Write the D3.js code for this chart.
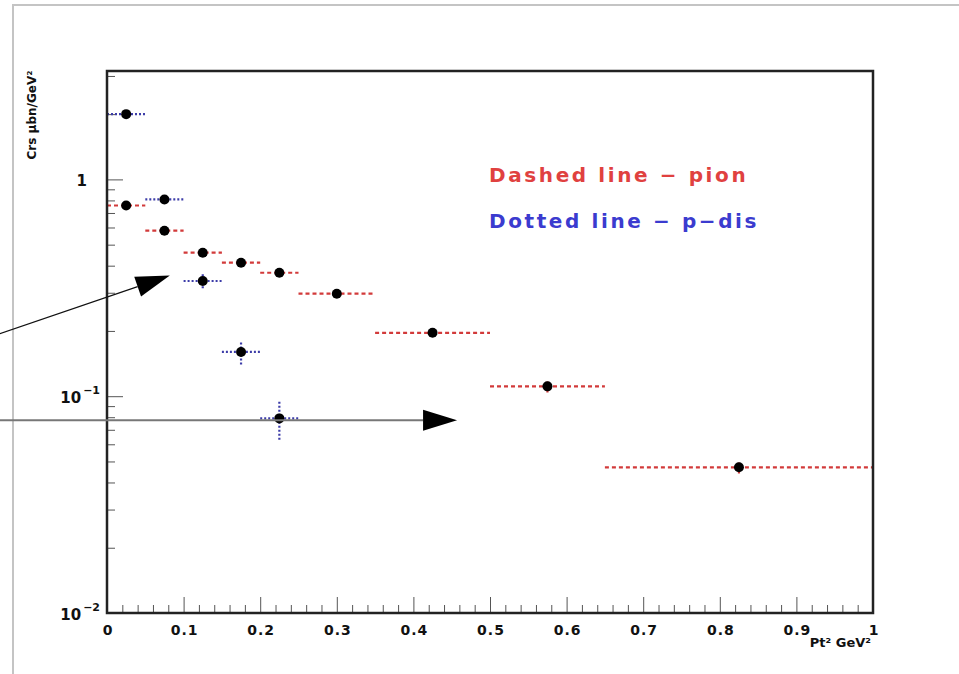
<!DOCTYPE html>
<html>
<head>
<meta charset="utf-8">
<script src="https://cdn.jsdelivr.net/npm/d3@7"></script>
<style>
  html, body { margin: 0; padding: 0; background: #fff; }
  svg { display: block; }
</style>
</head>
<body>
<div id="chart"></div>
<script>
// pion (red dashed)
const pionX   = [0.025, 0.075, 0.125, 0.175, 0.225, 0.3, 0.425, 0.575, 0.825];
const pionXLo = [0, 0.05, 0.1, 0.15, 0.2, 0.25, 0.35, 0.5, 0.65];
const pionXHi = [0.05, 0.1, 0.15, 0.2, 0.25, 0.35, 0.5, 0.65, 1.0];
const pionY   = [0.758, 0.58, 0.459, 0.413, 0.371, 0.297, 0.196, 0.111, 0.047];
const pionErr = [0.02, 0.015, 0.015, 0.015, 0.015, 0.01, 0.008, 0.007, 0.003];

// p-dis (blue dotted)
const pdisX   = [0.025, 0.075, 0.125, 0.175, 0.225];
const pdisXLo = [0, 0.05, 0.1, 0.15, 0.2];
const pdisXHi = [0.05, 0.1, 0.15, 0.2, 0.25];
const pdisY   = [2.0, 0.808, 0.34, 0.16, 0.079];
const pdisErr = [0.05, 0.03, 0.025, 0.02, 0.016];

const xTicks = [0, 0.1, 0.2, 0.3, 0.4, 0.5, 0.6, 0.7, 0.8, 0.9, 1];
const yTicks = [1, 0.1, 0.01];

const W = 959, H = 674;
const M = { left: 107, right: 873, top: 71, bottom: 613 };
const FONT = "'DejaVu Sans', Verdana, sans-serif";
const COL = {
  frame: '#222',
  red: '#d23a3a',
  blue: '#3c3ca8',
  legRed: '#e0413f',
  legBlue: '#3b3bcf',
  border: '#c4c4c4',
};

const svg = d3.select('#chart').append('svg')
  .attr('width', W).attr('height', H);

// outer page border (grey)
svg.append('path')
  .attr('d', `M13,${H} L13,5 L${W},5`)
  .attr('fill', 'none').attr('stroke', COL.border).attr('stroke-width', 2);

const x = d3.scaleLinear().domain([0, 1]).range([M.left, M.right]);
const y = d3.scaleLog().domain([0.01, Math.pow(10, 0.5)]).range([M.bottom, M.top]);

// x axis ticks (major + minor), pointing up
const xAxis = d3.axisBottom(x).tickValues(d3.range(0, 1.0001, 0.02))
  .tickSize(-8).tickFormat('');
const gx = svg.append('g').attr('transform', `translate(0,${M.bottom})`).call(xAxis);
gx.selectAll('.tick line')
  .attr('y2', (d) => Math.abs(d * 10 - Math.round(d * 10)) < 1e-6 ? -16 : -8)
  .attr('stroke', '#555');
gx.select('.domain').remove();

svg.append('g').selectAll('text').data(xTicks).enter().append('text')
  .attr('x', d => x(d) + 1).attr('y', M.bottom + 22)
  .attr('text-anchor', 'middle')
  .attr('font-family', FONT).attr('font-weight', 'bold').attr('font-size', 14)
  .attr('letter-spacing', 1)
  .attr('fill', '#111')
  .text(d => d === 0 || d === 1 ? String(d) : d.toFixed(1));

// y axis ticks (log), pointing right
const yMinor = [];
for (let e = -2; e <= 0; e++) {
  for (let k = 1; k <= 9; k++) {
    const v = k * Math.pow(10, e);
    if (v >= 0.01 && v <= Math.pow(10, 0.5)) yMinor.push(v);
  }
}
const yAxis = d3.axisLeft(y).tickValues(yMinor).tickSize(-8).tickFormat('');
const gy = svg.append('g').attr('transform', `translate(${M.left},0)`).call(yAxis);
gy.selectAll('.tick line')
  .attr('x2', d => yTicks.some(t => Math.abs(t - d) < 1e-9) ? 16 : 8)
  .attr('stroke', '#555');
gy.select('.domain').remove();

const yLab = svg.append('g').selectAll('text').data(yTicks).enter().append('text')
  .attr('x', d => d === 1 ? 87 : 100).attr('y', d => y(d) + 7)
  .attr('text-anchor', 'end')
  .attr('font-family', FONT).attr('font-weight', 'bold').attr('font-size', 15)
  .attr('fill', '#111');
yLab.each(function (d) {
  const t = d3.select(this);
  if (d === 1) { t.text('1'); return; }
  const e = Math.round(Math.log10(d));
  t.append('tspan').text('10');
  t.append('tspan').attr('dy', -9).attr('dx', 2).attr('font-size', 11).text('\u2212' + Math.abs(e));
});

// axis titles
svg.append('text')
  .attr('transform', 'translate(36,115) rotate(-90)')
  .attr('text-anchor', 'middle')
  .attr('font-family', FONT).attr('font-weight', 'bold').attr('font-size', 12)
  .attr('fill', '#111')
  .text('Crs \u03bcbn/GeV\u00b2');

svg.append('text')
  .attr('x', 871).attr('y', 647)
  .attr('text-anchor', 'end')
  .attr('font-family', FONT).attr('font-weight', 'bold').attr('font-size', 13)
  .attr('fill', '#111')
  .text('Pt\u00b2 GeV\u00b2');

// error bars
function drawSeries(xs, lo, hi, ys, err, color, dash) {
  const g = svg.append('g');
  const idx = d3.range(xs.length);
  g.selectAll('.hbar').data(idx).enter().append('line')
    .attr('x1', i => x(lo[i])).attr('x2', i => x(hi[i]))
    .attr('y1', i => y(ys[i])).attr('y2', i => y(ys[i]))
    .attr('stroke', color).attr('stroke-width', 2.2)
    .attr('stroke-dasharray', dash);
  g.selectAll('.vbar').data(idx).enter().append('line')
    .attr('x1', i => x(xs[i])).attr('x2', i => x(xs[i]))
    .attr('y1', i => y(ys[i] - err[i])).attr('y2', i => y(ys[i] + err[i]))
    .attr('stroke', color).attr('stroke-width', 2.2)
    .attr('stroke-dasharray', dash);
  g.selectAll('circle').data(idx).enter().append('circle')
    .attr('cx', i => x(xs[i])).attr('cy', i => y(ys[i]))
    .attr('r', 5).attr('fill', '#000');
}
drawSeries(pionX, pionXLo, pionXHi, pionY, pionErr, COL.red, '4,3');
drawSeries(pdisX, pdisXLo, pdisXHi, pdisY, pdisErr, COL.blue, '2,2');

// plot frame
svg.append('rect')
  .attr('x', M.left).attr('y', M.top)
  .attr('width', M.right - M.left).attr('height', M.bottom - M.top)
  .attr('fill', 'none').attr('stroke', COL.frame).attr('stroke-width', 2.5);

// legend
const legend = [
  { text: 'Dashed line \u2212 pion', color: COL.legRed },
  { text: 'Dotted line \u2212 p\u2212dis', color: COL.legBlue },
];
svg.append('g').selectAll('text').data(legend).enter().append('text')
  .attr('x', 489).attr('y', (d, i) => 182 + i * 46)
  .attr('font-family', FONT).attr('font-weight', 'bold')
  .attr('font-size', 20).attr('letter-spacing', 2.6)
  .attr('fill', d => d.color)
  .text(d => d.text);

// annotation arrows (data coordinates)
const arrows = [
  { x0: -0.14, y0: 0.194, x1: 0.082, y1: 0.36, color: '#111', w: 1.2 },
  { x0: -0.14, y0: 0.0774, x1: 0.457, y1: 0.0774, color: '#777', w: 2 },
];
arrows.forEach(a => {
  const px0 = x(a.x0), py0 = y(a.y0), px1 = x(a.x1), py1 = y(a.y1);
  const ang = Math.atan2(py1 - py0, px1 - px0);
  const len = 34, hw = 10.5;
  const bx = px1 - len * Math.cos(ang), by = py1 - len * Math.sin(ang);
  svg.append('line')
    .attr('x1', px0).attr('y1', py0).attr('x2', bx).attr('y2', by)
    .attr('stroke', a.color).attr('stroke-width', a.w);
  const nx = -Math.sin(ang), ny = Math.cos(ang);
  svg.append('path')
    .attr('d', `M${px1},${py1} L${bx + nx * hw},${by + ny * hw} L${bx - nx * hw},${by - ny * hw} Z`)
    .attr('fill', '#000');
});
</script>
</body>
</html>
